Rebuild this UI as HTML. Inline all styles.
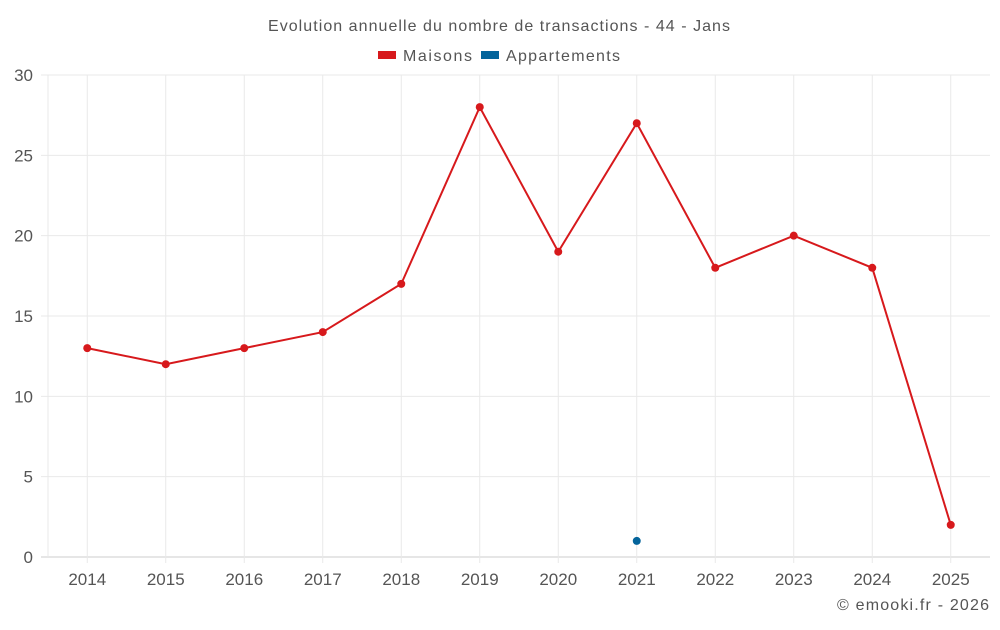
<!DOCTYPE html>
<html><head><meta charset="utf-8"><style>
body{margin:0;background:#fff;font-family:"Liberation Sans",sans-serif}
svg text{font-family:"Liberation Sans",sans-serif}
</style></head><body>
<svg id="c" width="1000" height="625">
<text x="499" y="31" text-anchor="middle" font-size="16" fill="#555" textLength="462">Evolution annuelle du nombre de transactions - 44 - Jans</text>
<g><rect x="378" y="51" width="18" height="8" fill="#d7191c"/><text x="403" y="61" font-size="16" fill="#555" textLength="69">Maisons</text></g>
<g><rect x="481" y="51" width="18" height="8" fill="#04649b"/><text x="506" y="61" font-size="16" fill="#555" textLength="114">Appartements</text></g>
<g id="grid"></g><g id="axes"></g><g id="series"></g>
<text x="989" y="610" text-anchor="end" font-size="16" fill="#555" textLength="152">© emooki.fr - 2026</text>
</svg>
<script>
const categories=["2014","2015","2016","2017","2018","2019","2020","2021","2022","2023","2024","2025"];
const maisons=[13,12,13,14,17,28,19,27,18,20,18,2];
const appartements=[null,null,null,null,null,null,null,1,null,null,null,null];
const yTicks=[0,5,10,15,20,25,30];
const L=48,R=990,T=75,B=557,NS="http://www.w3.org/2000/svg";
const bw=(R-L)/categories.length;
const x=i=>L+bw*(i+0.5), y=v=>B-(v/30)*(B-T);
function mk(t,a,p){const e=document.createElementNS(NS,t);for(const k in a)e.setAttribute(k,a[k]);document.getElementById(p).appendChild(e);return e;}
yTicks.forEach(v=>{const l=mk('line',{x1:41,x2:R,y1:y(v),y2:y(v),stroke:v===0?'#ccc':'#e9e9e9'},'grid');


const t=mk('text',{x:33,y:y(v)+6,'text-anchor':'end','font-size':17,fill:'#555'},'axes');t.textContent=v;

});
mk('line',{x1:L,x2:L,y1:T,y2:B,stroke:'#e9e9e9'},'grid');
categories.forEach((c,i)=>{const l=mk('line',{x1:x(i),x2:x(i),y1:T,y2:B+6,stroke:'#e9e9e9'},'grid');


const t=mk('text',{x:x(i),y:585,'text-anchor':'middle','font-size':17,fill:'#555'},'axes');t.textContent=c;

});
const p=mk('polyline',{points:maisons.map((v,i)=>x(i)+','+y(v)).join(' '),fill:'none',stroke:'#d7191c','stroke-width':2},'series');


maisons.forEach((v,i)=>{const c=mk('circle',{cx:x(i),cy:y(v),r:4,fill:'#d7191c'},'series');

});
appartements.forEach((v,i)=>{if(v==null)return;const c=mk('circle',{cx:x(i),cy:y(v),r:4,fill:'#04649b'},'series');

});
</script></body></html>
